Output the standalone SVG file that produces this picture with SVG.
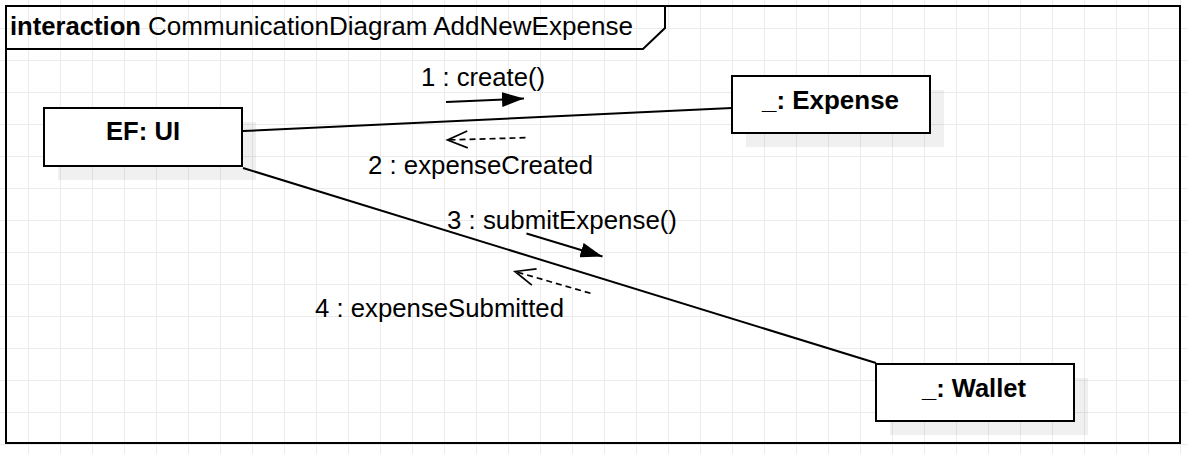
<svg xmlns="http://www.w3.org/2000/svg" width="1188" height="454" viewBox="0 0 1188 454">
  <style>
    text { font-family: "Liberation Sans", Arial, sans-serif; font-size: 25px; fill: #000; }
    .b { font-weight: bold; }
    .box { fill: #fff; stroke: #000; stroke-width: 2; }
    .shadow { fill: #000; fill-opacity: 0.06; stroke: none; }
    .link { fill: none; stroke: #000; stroke-width: 2; }
    .call { fill: none; stroke: #000; stroke-width: 2; }
    .reply { fill: none; stroke: #000; stroke-width: 1.7; stroke-dasharray: 6 4; }
  </style>
  <defs>
    <pattern id="grid" patternUnits="userSpaceOnUse" x="28" y="28" width="32" height="32">
      <path d="M0 0.5 H32 M0.5 0 V32" fill="none" stroke="#ebebeb" stroke-width="1"/>
    </pattern>
    <marker id="filled" viewBox="0 0 22 15" refX="22" refY="7.5" markerWidth="22" markerHeight="15" markerUnits="userSpaceOnUse" orient="auto">
      <path d="M0 0 L22 7.5 L0 15 Z" fill="#000"/>
    </marker>
    <marker id="open" viewBox="-22 -10 24 20" refX="0" refY="0" markerWidth="24" markerHeight="20" markerUnits="userSpaceOnUse" orient="auto">
      <path d="M-20 -8.5 L0 0 L-20 8.5" fill="none" stroke="#000" stroke-width="1.7"/>
    </marker>
  </defs>

  <rect width="1188" height="454" fill="#fff"/>
  <rect width="1188" height="454" fill="url(#grid)"/>

  <g id="frame">
    <rect x="6" y="6" width="1174" height="437" fill="none" stroke="#000" stroke-width="2"/>
    <path d="M6 49 H643 L665 28 V6" fill="none" stroke="#000" stroke-width="2"/>
    <text x="10" y="35" class="b" textLength="131" lengthAdjust="spacingAndGlyphs">interaction</text>
    <text x="148" y="35" textLength="485" lengthAdjust="spacingAndGlyphs">CommunicationDiagram AddNewExpense</text>
  </g>

  <g id="connectors">
    <path class="link" d="M243 131 L732 108"/>
    <path class="link" d="M243 168 L876 363"/>
    <path class="call" d="M446 102 L524 98.6" marker-end="url(#filled)"/>
    <path class="reply" d="M525.5 137.7 L447.5 140" marker-end="url(#open)"/>
    <path class="call" d="M526.5 233.5 L602.5 256.5" marker-end="url(#filled)"/>
    <path class="reply" d="M590.5 293.3 L515 271.5" marker-end="url(#open)"/>
    <text x="421" y="86" textLength="124" lengthAdjust="spacingAndGlyphs">1 : create()</text>
    <text x="368" y="174" textLength="225" lengthAdjust="spacingAndGlyphs">2 : expenseCreated</text>
    <text x="447" y="229" textLength="230" lengthAdjust="spacingAndGlyphs">3 : submitExpense()</text>
    <text x="315" y="317" textLength="249" lengthAdjust="spacingAndGlyphs">4 : expenseSubmitted</text>
  </g>

  <g id="node-ui">
    <rect class="shadow" x="58" y="122" width="198" height="58"/>
    <rect class="box" x="44" y="108" width="198" height="58"/>
    <text x="106" y="140" class="b" textLength="74" lengthAdjust="spacingAndGlyphs">EF: UI</text>
  </g>

  <g id="node-expense">
    <rect class="shadow" x="746" y="90" width="198" height="57"/>
    <rect class="box" x="732" y="76" width="198" height="57"/>
    <text x="762" y="109" class="b" textLength="137" lengthAdjust="spacingAndGlyphs">_: Expense</text>
  </g>

  <g id="node-wallet">
    <rect class="shadow" x="890" y="378" width="198" height="57"/>
    <rect class="box" x="876" y="364" width="198" height="57"/>
    <text x="922" y="397" class="b" textLength="104" lengthAdjust="spacingAndGlyphs">_: Wallet</text>
  </g>
</svg>
